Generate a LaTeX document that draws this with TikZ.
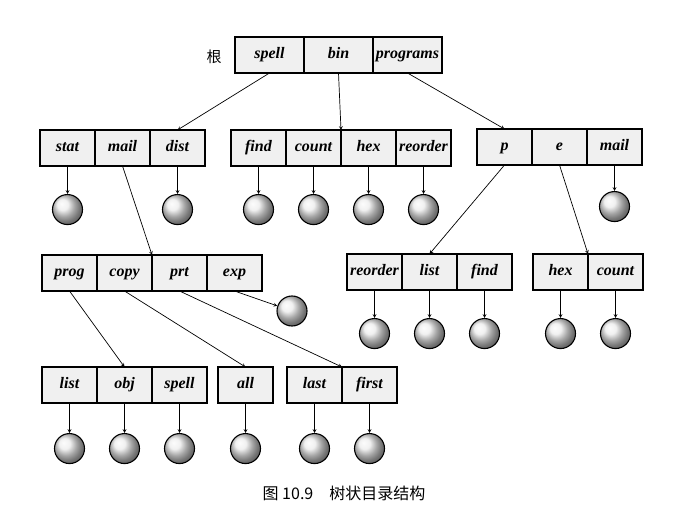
\documentclass[tikz,border=0pt]{standalone}
\usepackage{fontspec}
\setmainfont{Liberation Serif}
\newfontfamily\cjk{Noto Sans CJK SC}
\usetikzlibrary{shapes,arrows,positioning}
\tikzstyle{arrow} = [->,>=stealth,line width=0.7pt]
\tikzstyle{cell} = [draw, line width=1.1pt, fill=gray!12, minimum width=55pt, minimum height=36pt,
  inner sep=0pt, outer sep=0pt, text height=11pt, text depth=3.5pt,
  font=\fontsize{16}{19}\selectfont\bfseries\itshape]
\tikzstyle{rootcell} = [cell, minimum width=69pt]
\tikzstyle{leaf} = [circle, draw, line width=1.1pt, minimum size=30pt, inner sep=0pt, ball color=gray!15]

\begin{document}
\begin{tikzpicture}[x=1pt, y=-1pt]
    \useasboundingbox[fill=white] (0,0) rectangle (687,526);

    \node[font=\cjk\fontsize{15}{17}\selectfont] (root) at (214,57) {根};
    \node[rootcell] (spell) at (269.5,55) {spell};
    \node[rootcell, right=0pt of spell] (bin) {bin};
    \node[rootcell, right=0pt of bin] (programs) {programs};

    \node[cell] (stat) at (67.5,148) {stat};
    \node[cell, right=0pt of stat] (mail) {mail};
    \node[cell, right=0pt of mail] (dist) {dist};

    \node[cell] (find) at (258.5,148) {find};
    \node[cell, right=0pt of find] (count) {count};
    \node[cell, right=0pt of count] (hex) {hex};
    \node[cell, right=0pt of hex] (reorder) {reorder};

    \node[cell] (p) at (504.5,147) {p};
    \node[cell, right=0pt of p] (e) {e};
    \node[cell, right=0pt of e] (mail-e) {mail};

    \node[cell] (prog) at (69.5,273) {prog};
    \node[cell, right=0pt of prog] (copy) {copy};
    \node[cell, right=0pt of copy] (prt) {prt};
    \node[cell, right=0pt of prt] (exp) {exp};

    \node[cell] (reorder-p) at (374.5,272) {reorder};
    \node[cell, right=0pt of reorder-p] (list-p) {list};
    \node[cell, right=0pt of list-p] (find-p) {find};

    \node[cell] (hex-e) at (560.5,272) {hex};
    \node[cell, right=0pt of hex-e] (count-e) {count};

    \node[cell] (list-prog) at (69.5,385) {list};
    \node[cell, right=0pt of list-prog] (obj) {obj};
    \node[cell, right=0pt of obj] (spell-prog) {spell};

    \node[cell] (all) at (245.5,385) {all};

    \node[cell] (last) at (314.5,385) {last};
    \node[cell, right=0pt of last] (first) {first};

    \node[leaf, below=28pt of stat] (stat-f) {};
    \node[leaf, below=28pt of dist] (dist-f) {};
    \node[leaf, below=28pt of find] (find-f) {};
    \node[leaf, below=28pt of count] (count-f) {};
    \node[leaf, below=28pt of hex] (hex-f) {};
    \node[leaf, below=28pt of reorder] (reorder-f) {};
    \node[leaf, below=26pt of mail-e] (mail-e-f) {};
    \node[leaf] (exp-f) at (292,311) {};
    \node[leaf, below=28pt of reorder-p] (reorder-p-f) {};
    \node[leaf, below=28pt of list-p] (list-p-f) {};
    \node[leaf, below=28pt of find-p] (find-p-f) {};
    \node[leaf, below=28pt of hex-e] (hex-e-f) {};
    \node[leaf, below=28pt of count-e] (count-e-f) {};
    \node[leaf, below=30pt of list-prog] (list-prog-f) {};
    \node[leaf, below=30pt of obj] (obj-f) {};
    \node[leaf, below=30pt of spell-prog] (spell-prog-f) {};
    \node[leaf, below=30pt of all] (all-f) {};
    \node[leaf, below=30pt of last] (last-f) {};
    \node[leaf, below=30pt of first] (first-f) {};

    \draw[arrow] (spell.south) -- (dist.north);
    \draw[arrow] (bin.south) -- (count.north east);
    \draw[arrow] (programs.south) -- (p.north);
    \draw[arrow] (mail.south) -- (copy.north east);
    \draw[arrow] (p.south) -- (list-p.north);
    \draw[arrow] (e.south) -- (hex-e.north east);
    \draw[arrow] (prog.south) -- (obj.north);
    \draw[arrow] (copy.south) -- (all.north);
    \draw[arrow] (prt.south) -- (first.north west);
    \draw[arrow] (exp.south) -- (exp-f);

    \foreach \c in {stat,dist,find,count,hex,reorder,mail-e,reorder-p,list-p,find-p,hex-e,count-e,list-prog,obj,spell-prog,all,last,first}
        \draw[arrow] (\c.south) -- (\c-f.north);

    \node[font=\cjk\fontsize{16}{19}\selectfont] (caption) at (344,493) {图 10.9\quad 树状目录结构};
\end{tikzpicture}
\end{document}
